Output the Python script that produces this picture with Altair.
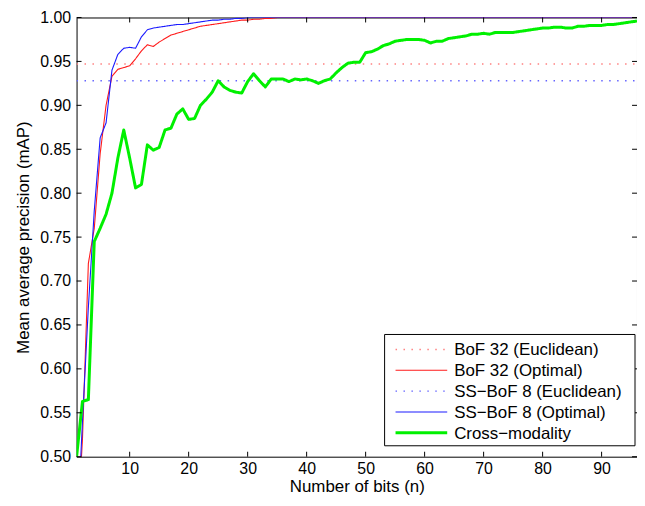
import altair as alt
import pandas as pd

# ---------------- data ----------------
series_names = ["BoF 32 (Euclidean)", "BoF 32 (Optimal)",
                "SS\u2212BoF 8 (Euclidean)", "SS\u2212BoF 8 (Optimal)",
                "Cross\u2212modality"]

euc_bits = [1, 96]
bof32_euc = [0.947, 0.947]
ssbof8_euc = [0.928, 0.928]

bof32_bits = list(range(1, 36)) + [96]
bof32_opt = [0.40, 0.52, 0.72, 0.76, 0.845, 0.900, 0.933, 0.941, 0.943, 0.945,
             0.953, 0.962, 0.969, 0.967, 0.972, 0.976, 0.980, 0.982, 0.984, 0.986,
             0.988, 0.990, 0.991, 0.992, 0.993, 0.994, 0.995, 0.996, 0.997, 0.997,
             0.998, 0.998, 0.999, 0.999, 1.000, 1.000]

ssbof8_bits = list(range(1, 31)) + [96]
ssbof8_opt = [0.40, 0.54, 0.67, 0.78, 0.863, 0.880, 0.940, 0.958, 0.965, 0.966,
              0.965, 0.978, 0.986, 0.988, 0.989, 0.990, 0.991, 0.992, 0.992, 0.993,
              0.994, 0.995, 0.996, 0.997, 0.997, 0.998, 0.998, 0.999, 0.999, 1.000,
              1.000]

cross_bits = list(range(1, 97))
cross_modality = [0.500, 0.563, 0.565, 0.745, 0.760, 0.776, 0.800, 0.840, 0.872, 0.840,
                  0.806, 0.810, 0.855, 0.849, 0.852, 0.872, 0.874, 0.890, 0.896, 0.884,
                  0.885, 0.900, 0.907, 0.915, 0.928, 0.921, 0.917, 0.915, 0.914, 0.927,
                  0.936, 0.928, 0.921, 0.930, 0.930, 0.930, 0.927, 0.930, 0.929, 0.930,
                  0.928, 0.925, 0.928, 0.930, 0.937, 0.943, 0.948, 0.949, 0.949, 0.960,
                  0.961, 0.964, 0.968, 0.970, 0.973, 0.974, 0.975, 0.975, 0.975, 0.974,
                  0.971, 0.973, 0.973, 0.976, 0.977, 0.978, 0.979, 0.981, 0.981, 0.982,
                  0.981, 0.983, 0.983, 0.983, 0.983, 0.984, 0.985, 0.986, 0.987, 0.988,
                  0.988, 0.989, 0.989, 0.988, 0.988, 0.990, 0.990, 0.991, 0.991, 0.991,
                  0.992, 0.992, 0.993, 0.994, 0.995, 0.996]

x_ticks = [10, 20, 30, 40, 50, 60, 70, 80, 90]
y_ticks = [0.50, 0.55, 0.60, 0.65, 0.70, 0.75, 0.80, 0.85, 0.90, 0.95, 1.00]

series_data = [(euc_bits, bof32_euc), (bof32_bits, bof32_opt),
               (euc_bits, ssbof8_euc), (ssbof8_bits, ssbof8_opt),
               (cross_bits, cross_modality)]

# ---------------- styles ----------------
colors = ["#ff8080", "#ff1a1a", "#6464ff", "#1a1aff", "#00f000"]
dashes = [[1.5, 6.5], [1, 0], [1.5, 6.5], [1, 0], [1, 0]]
widths = [1.5, 1.1, 1.5, 1.1, 3]

FONT = "Liberation Sans"
W, H = 564, 442

xscale = alt.Scale(domain=[1, 96], nice=False, zero=False)
yscale = alt.Scale(domain=[0.5, 1.0], nice=False, zero=False)

xaxis = alt.Axis(values=x_ticks, ticks=False, domain=False, grid=False,
                 title="Number of bits (n)", labelPadding=4, titlePadding=2)
yaxis = alt.Axis(values=y_ticks, format=".2f", ticks=False, domain=False,
                 grid=False, title="Mean average precision (mAP)",
                 labelPadding=6, titlePadding=7)

layers = []
for i, (name, (xs, ys)) in enumerate(zip(series_names, series_data)):
    d = pd.DataFrame({"bits": xs, "map": ys})
    layers.append(
        alt.Chart(d).mark_line(clip=True, strokeCap="butt", strokeJoin="round",
                               color=colors[i], strokeWidth=widths[i],
                               strokeDash=dashes[i]).encode(
            x=alt.X("bits:Q", scale=xscale, axis=xaxis),
            y=alt.Y("map:Q", scale=yscale, axis=yaxis),
        )
    )

# inward ticks on all four sides (MATLAB style box)
xt = pd.DataFrame({"bits": x_ticks})
yt = pd.DataFrame({"map": y_ticks})
TL = 5
layers += [
    alt.Chart(xt).mark_rule(color="black", strokeWidth=1).encode(
        x="bits:Q", y=alt.value(H), y2=alt.value(H - TL)),
    alt.Chart(xt).mark_rule(color="black", strokeWidth=1).encode(
        x="bits:Q", y=alt.value(0), y2=alt.value(TL)),
    alt.Chart(yt).mark_rule(color="black", strokeWidth=1).encode(
        y="map:Q", x=alt.value(0), x2=alt.value(TL)),
    alt.Chart(yt).mark_rule(color="black", strokeWidth=1).encode(
        y="map:Q", x=alt.value(W), x2=alt.value(W - TL)),
]

# legend box (drawn by hand, MATLAB style)
LX0, LX1, LY0, LY1 = 310, 562, 319, 431
ROW0, ROWSTEP = 334, 21
SYM0, SYM1, TXT = 321, 373, 380
box = pd.DataFrame({"k": [0]})
layers.append(
    alt.Chart(box).mark_rect(fill="white", stroke="black", strokeWidth=1).encode(
        x=alt.value(LX0), x2=alt.value(LX1), y=alt.value(LY0), y2=alt.value(LY1))
)
for i, name in enumerate(series_names):
    yy = ROW0 + ROWSTEP * i
    layers.append(
        alt.Chart(box).mark_rule(color=colors[i], strokeWidth=widths[i],
                                 strokeDash=dashes[i], strokeCap="butt").encode(
            x=alt.value(SYM0), x2=alt.value(SYM1), y=alt.value(yy))
    )
    layers.append(
        alt.Chart(pd.DataFrame({"label": [name]})).mark_text(
            align="left", baseline="middle", font=FONT, fontSize=17,
            color="black").encode(
            text="label:N", x=alt.value(TXT), y=alt.value(yy + 1))
    )

chart = alt.layer(*layers).properties(
    width=W, height=H,
    autosize=alt.AutoSizeParams(type="none"),
    padding={"left": 69, "top": 8, "right": 0, "bottom": 40},
).configure_view(
    stroke="black", strokeWidth=1
).configure_axis(
    labelFont=FONT, titleFont=FONT, labelFontSize=16, titleFontSize=17,
    labelColor="black", titleColor="black", titleFontWeight="normal",
)

chart.save("out.html", embed_options={"renderer": "svg", "actions": False})
